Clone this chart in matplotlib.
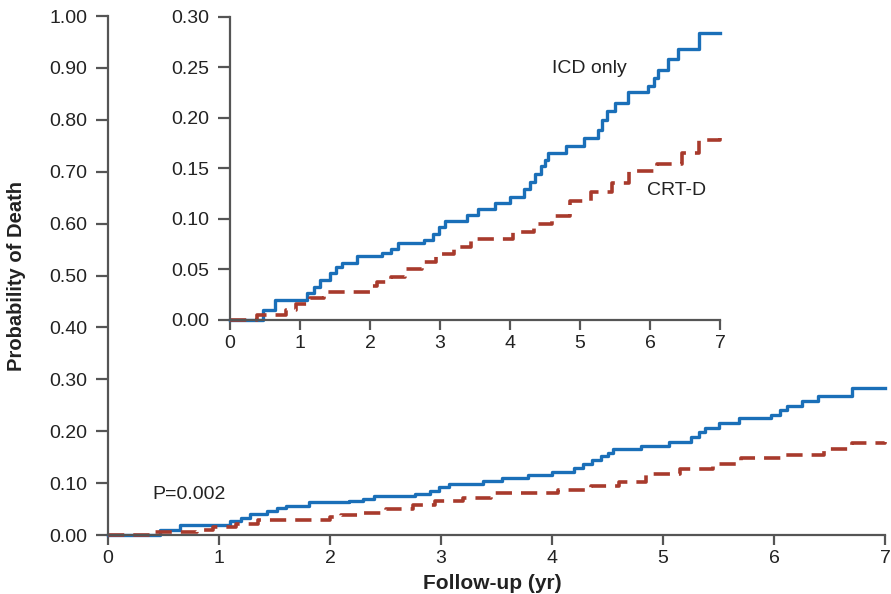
import matplotlib.pyplot as plt

plt.rcParams['font.family'] = ['Liberation Sans', 'DejaVu Sans']

# Kaplan-Meier style step data
icd_t = [0, 0.47, 0.65, 1.1, 1.2, 1.28, 1.43, 1.52, 1.6, 1.81, 2.17, 2.3, 2.4, 2.77, 2.9, 2.98,
         3.07, 3.38, 3.55, 3.78, 4.0, 4.2, 4.28, 4.36, 4.44, 4.5, 4.55, 4.8, 5.05, 5.25, 5.32,
         5.38, 5.5, 5.68, 5.97, 6.05, 6.12, 6.25, 6.4, 6.7, 7.0]
icd_v = [0, 0.01, 0.02, 0.027, 0.033, 0.04, 0.047, 0.052, 0.056, 0.063, 0.066, 0.07, 0.076, 0.079,
         0.085, 0.092, 0.098, 0.104, 0.11, 0.116, 0.122, 0.13, 0.137, 0.145, 0.152, 0.158, 0.165,
         0.172, 0.18, 0.188, 0.198, 0.207, 0.215, 0.226, 0.232, 0.24, 0.248, 0.258, 0.268, 0.284, 0.284]

crt_t = [0, 0.38, 0.8, 0.95, 1.15, 1.35, 2.0, 2.1, 2.3, 2.5, 2.75, 2.95, 3.2, 3.45, 4.05, 4.35,
         4.6, 4.85, 5.15, 5.45, 5.7, 6.1, 6.45, 6.7, 7.0]
crt_v = [0, 0.005, 0.01, 0.016, 0.022, 0.028, 0.034, 0.038, 0.043, 0.05, 0.057, 0.065, 0.072, 0.08,
         0.087, 0.095, 0.103, 0.118, 0.127, 0.136, 0.148, 0.154, 0.165, 0.178, 0.18]

main_yticks = [0, 0.1, 0.2, 0.3, 0.4, 0.5, 0.6, 0.7, 0.8, 0.9, 1.0]
inset_yticks = [0, 0.05, 0.10, 0.15, 0.20, 0.25, 0.30]
xticks = [0, 1, 2, 3, 4, 5, 6, 7]

blue = '#1a6fb8'
red = '#a83a2c'
axis_col = '#555555'
txt_col = '#222222'

fig = plt.figure(figsize=(8.91, 5.94), dpi=100)


def style(ax, yticks, ytop):
    for s in ['top', 'right']:
        ax.spines[s].set_visible(False)
    for s in ['left', 'bottom']:
        ax.spines[s].set_color(axis_col)
        ax.spines[s].set_linewidth(1.6)
    ax.set_xlim(0, 7)
    ax.set_ylim(0, ytop)
    ax.set_xticks(xticks)
    ax.set_yticks(yticks)
    ax.set_yticklabels([f'{v:.2f}' for v in yticks])
    ax.tick_params(axis='y', direction='out', length=9, width=1.6, color=axis_col,
                   labelsize=14, pad=6, labelcolor=txt_col)
    ax.tick_params(axis='x', direction='out', length=7, width=1.6, color=axis_col,
                   labelsize=14, pad=4, labelcolor=txt_col)


def curves(ax):
    ax.step(icd_t, icd_v, where='post', color=blue, lw=2.4, clip_on=False)
    ax.step(crt_t, crt_v, where='post', color=red, lw=2.6, dashes=(4.5, 2.5), clip_on=False)


# main plot
ax = fig.add_axes([0.1212, 0.0993, 0.8721, 0.8737])
style(ax, main_yticks, 1.0)
curves(ax)
ax.set_ylabel('Probability of Death', fontsize=14.5, fontweight='bold', color=txt_col)
ax.yaxis.set_label_coords(-0.105, 0.5)
ax.set_xlabel('Follow-up (yr)', fontsize=15, fontweight='bold', color=txt_col)
ax.xaxis.set_label_coords(0.494, -0.075)
ax.text(0.73, 0.078, 'P=0.002', fontsize=14, ha='center', va='center', color=txt_col)

# inset
axi = fig.add_axes([0.2581, 0.4613, 0.55, 0.5101])
axi.set_facecolor('white')
style(axi, inset_yticks, 0.30)
curves(axi)
axi.text(5.14, 0.249, 'ICD only', fontsize=14, ha='center', va='center', color=txt_col)
axi.text(6.38, 0.128, 'CRT-D', fontsize=14, ha='center', va='center', color=txt_col)

fig.savefig('out.png', dpi=100)
